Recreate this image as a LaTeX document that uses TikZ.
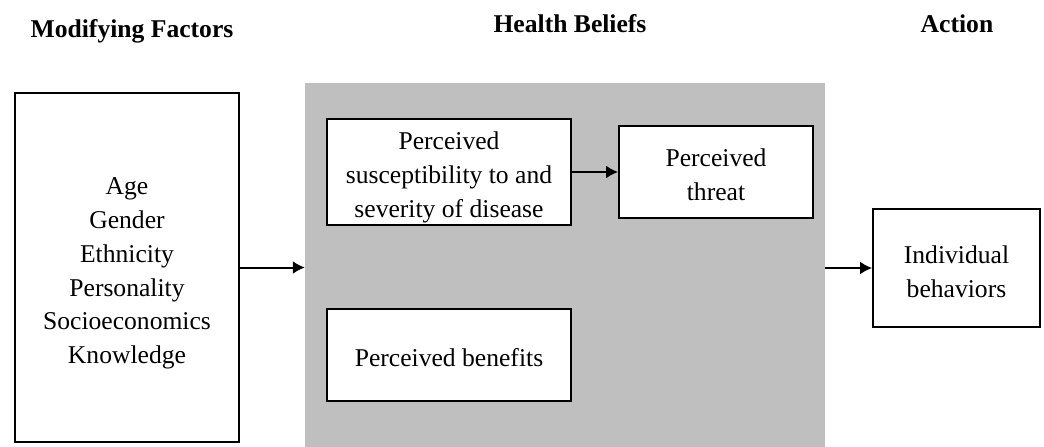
\documentclass[tikz,border=0pt]{standalone}
\usepackage{fontspec}
\setmainfont{Liberation Serif}
\usetikzlibrary{arrows.meta}
\definecolor{beliefgray}{RGB}{191,191,191}
% invisible strut on the first line, pushes the text a bit down in its box
\newcommand\topgap[1]{\rule{0pt}{#1}}
\begin{document}
\begin{tikzpicture}[x=1pt,y=-1pt,
  box/.style={draw,line width=1.8pt,fill=white,align=center,inner sep=0pt,
    font=\fontsize{25.6}{33.8}\selectfont},
  head/.style={anchor=base,font=\fontsize{25.6}{30}\selectfont\bfseries},
  link/.style={line width=2pt,-{Latex[length=12pt,width=13pt]}}]
\useasboundingbox (0,0) rectangle (1044,447);

\node[head] (modif)  at (132,37) {Modifying Factors};
\node[head] (health) at (570,32) {Health Beliefs};
\node[head] (action) at (957,32) {Action};

\node[fill=beliefgray,minimum width=520pt,minimum height=364pt,inner sep=0pt] (beliefs) at (565,265) {};

\node[box,minimum width=224pt,minimum height=349pt] (factors) at (127,267.5)
  {\topgap{29pt}Age\\Gender\\Ethnicity\\Personality\\Socioeconomics\\Knowledge};
\node[box,minimum width=244pt,minimum height=106pt] (suscept) at (449,172)
  {\topgap{29pt}Perceived\\susceptibility to and\\severity of disease};
\node[box,minimum width=194pt,minimum height=92pt] (threat) at (716,172) {\topgap{24pt}Perceived\\threat};
\node[box,minimum width=244pt,minimum height=92pt] (benefits) at (449,355) {\topgap{23.5pt}Perceived benefits};
\node[box,minimum width=167pt,minimum height=118pt] (behav) at (956.5,268) {\topgap{25pt}Individual\\behaviors};

\draw[link] (factors.east) -- (factors.east -| beliefs.west);
\draw[link] (suscept.east) -- (threat.west);
\draw[link] (beliefs.east |- behav.west) -- (behav.west);
\end{tikzpicture}
\end{document}
